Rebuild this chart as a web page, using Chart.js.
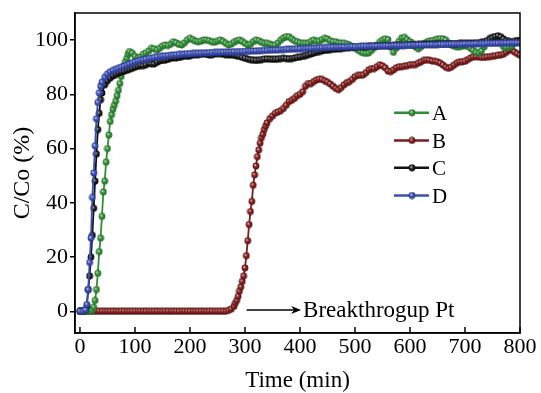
<!doctype html>
<html lang="en">
<head>
<meta charset="utf-8">
<title>Breakthrough curves</title>
<style>
  * { margin: 0; padding: 0; }
  body { background: #fff; }
  .chartBox { width: 541px; height: 393px; }
</style>
</head>
<body>
<div class="chartBox"><canvas id="myChart" width="541" height="393"></canvas></div>
<script src="https://cdn.jsdelivr.net/npm/chart.js"></script>
<script>
// sampling grid: one reading every 5 min, 0..800
const grid = [];
for (let t = 0; t <= 800; t += 5) grid.push(t);

const xTicks = [0, 100, 200, 300, 400, 500, 600, 700, 800];
const yTicks = [0, 20, 40, 60, 80, 100];
const names = ['A', 'B', 'C', 'D'];

// values on the 5-min grid (rows of 10 = 50 min)
const valA = [
  0,0,0,0,0,1.5,8,22,35,48,
  60,70,74.5,77.5,81.5,86.6,90.3,93.3,95.8,95.2,
  94,93.3,93.8,94.8,95.3,96,97,96.8,96.4,97,
  97.8,98.2,98,98.5,99.4,99,98.4,98.2,99,100,
  100.7,100.2,99.6,99.4,99.6,100,100,99.8,99.4,99.2,
  99.6,100,99.5,98.8,98.2,98.5,99.2,99.8,100,99.5,
  98.8,98.2,98.5,99.4,100,99.8,99.2,98.8,98.8,98.6,
  98.2,98.2,99,100,100.8,101.3,101.2,100.5,99.8,99.4,
  99,98.8,98.8,98.8,99.5,100,99.6,99.6,100.2,100.7,
  100.4,99.8,99.4,99.4,99,98.8,98.8,98.6,98.2,97.6,
  97,96.4,95.8,95.3,95.1,95.3,96.2,97.2,98.2,99.2,
  100,100.5,100.2,97.5,95.5,97,99.5,100.8,101,100.2,
  99.4,98.8,97.5,96.8,97.5,98.5,99.2,99.6,99.8,100,
  100.4,100.5,100.5,100,99,98.2,97.8,97.5,97.5,97.8,
  98,97.8,97,96.2,95.5,95.3,96,97.5,99.2,100.6,
  101,101.2,101,99,97.6,97.2,97.4,97.8,98.8,99.8,
  100
];
const valB = [
  0,0,0,0,0,0,0,0,0,0,
  0,0,0,0,0,0,0,0,0,0,
  0,0,0,0,0,0,0,0,0,0,
  0,0,0,0,0,0,0,0,0,0,
  0,0,0,0,0,0,0,0,0,0,
  0,0,0,0,0.3,0.8,1.8,4,7.4,11,
  16,26,36.8,46.5,53.6,59.5,64,67,69.5,71,
  72,73,73.5,74,74.8,76,77.3,77.8,78.5,79.5,
  80,81,83,84,84,84.7,85.3,85.6,85.5,85,
  84.5,83.8,83,82.2,81.7,82.5,83.5,84.3,84.7,85.5,
  86.5,87,87,87.2,88,89,89.5,89.5,90.2,90.9,
  90.5,89.8,88.6,88.4,89,89.8,90.2,90.2,90.4,90.6,
  90.9,91,91,91.5,92,92.5,92.7,92.6,92.3,92.2,
  92,91.5,90.8,90,89.6,90,90.8,91.5,92,92,
  92.2,92.8,93.4,93.8,93.9,93.8,93.6,93.6,93.8,93.9,
  94,94.2,94.4,94.5,94.8,95.5,96.2,96.4,95.6,95,
  94.5
];
const valC = [
  0,0,0.5,8,20,38,58,73,80.5,83.5,
  85,86,86.8,87.3,87.8,88.2,88.5,88.8,89.2,89.6,
  90,90.3,90.6,90.6,90.9,91.4,91.2,91.2,91.8,92.3,
  92.5,92.6,92.9,93.3,93.5,93.4,93.6,93.9,94.2,94,
  94.2,94.5,94.6,94.6,94.8,94.9,94.7,94.5,94.6,94.9,
  95,95,94.8,94.6,94.5,94.6,94.4,94.2,94,93.6,
  93.3,93,92.8,92.6,92.5,92.6,92.8,93,93.1,93,
  92.9,92.9,93,93.2,93.3,93.2,93.1,93.2,93.4,93.6,
  93.8,94,94.3,94.6,94.9,95.2,95.5,95.8,96,96.2,
  96.3,96.5,96.6,96.7,96.8,96.9,97,97.1,97.2,97.3,
  97.4,97.5,97.5,97.6,97.6,97.7,97.7,97.8,97.8,97.9,
  97.9,98,98,98,98.1,98.1,98.1,98.2,98.2,98.2,
  98.3,98.3,98.3,98.4,98.4,98.4,98.5,98.5,98.5,98.5,
  98.6,98.6,98.6,98.6,98.7,98.7,98.7,98.7,98.8,98.8,
  98.8,98.8,98.9,98.9,99,99,99.2,99.4,99.8,100.3,
  100.8,101.3,101.6,101.2,100.4,99.8,99.5,99.4,99.5,99.6,
  99.6
];
const valD = [
  0,0,0.5,8,27,51,71,80.5,84.5,86.3,
  87.5,88.3,88.8,89.2,89.6,90,90.4,90.8,91.2,91.6,
  92,92.3,92.6,92.8,93,93.2,93.4,93.6,93.8,94,
  94.1,94.2,94.3,94.4,94.5,94.6,94.7,94.8,94.9,95,
  95,95.1,95.1,95.2,95.2,95.3,95.3,95.4,95.4,95.5,
  95.5,95.5,95.6,95.6,95.6,95.7,95.7,95.7,95.8,95.8,
  95.8,95.9,95.9,96,96,96.1,96.1,96.2,96.2,96.3,
  96.3,96.4,96.4,96.5,96.5,96.6,96.6,96.7,96.7,96.8,
  96.8,96.9,96.9,97,97,97.1,97.1,97.2,97.2,97.3,
  97.3,97.3,97.4,97.4,97.4,97.5,97.5,97.5,97.6,97.6,
  97.6,97.6,97.7,97.7,97.7,97.7,97.8,97.8,97.8,97.8,
  97.9,97.9,97.9,97.9,98,98,98,98,98,98.1,
  98.1,98.1,98.1,98.2,98.2,98.2,98.2,98.3,98.3,98.3,
  98.3,98.4,98.4,98.4,98.4,98.5,98.5,98.5,98.5,98.5,
  98.6,98.6,98.6,98.6,98.7,98.7,98.7,98.7,98.8,98.8,
  98.8,98.8,98.8,98.9,98.9,98.9,98.9,99,99,99,
  99
];

// extra readings taken between grid points on the steep parts
const riseTA = [22.5,27.5,32.5,37.5,42.5,47.5,52.5,57.5,62.5,67.5,72.5,77.5,82.5,87.5];
const riseVA = [0.5,4,14,27,44,55,65,72.5,76,79.5,84,88.5,92,94.8];
const riseTB = [282.5,287.5,292.5,297.5,302.5,307.5,312.5,317.5,322.5,327.5,332.5,337.5];
const riseVB = [3,5.5,9,13,20.5,32,40.5,50.3,57,62,65.3,68.3];
const riseTC = [12.5,17.5,22.5,27.5,32.5,37.5];
const riseVC = [2,13,28,48,67,78];
const riseTD = [12.5,17.5,22.5,27.5,32.5,37.5];
const riseVD = [2.5,18,42,61,77,83];

function series(vals, rt, rv) {
  const pts = grid.map((t, i) => ({x: t, y: vals[i]}));
  rt.forEach((t, i) => pts.push({x: t, y: rv[i]}));
  pts.sort((a, b) => a.x - b.x);
  return pts;
}

// little shaded ball used as marker
function ball(color, dark, r) {
  const s = 8;
  const c = document.createElement('canvas');
  c.width = s; c.height = s;
  const g = c.getContext('2d');
  const grad = g.createRadialGradient(s/2 - r*0.3, s/2 - r*0.35, 0, s/2, s/2, r);
  grad.addColorStop(0, '#ffffff');
  grad.addColorStop(0.4, color);
  grad.addColorStop(1, dark);
  g.fillStyle = grad;
  g.beginPath();
  g.arc(s/2, s/2, r, 0, Math.PI*2);
  g.fill();
  return c;
}

const lineCol = ['#2f8f37', '#7d1c1c', '#111111', '#3a4fb2'];
const balls = [
  ball('#3e9d43', '#216b27', 3.4),
  ball('#922a2a', '#5a0f0f', 3.4),
  ball('#333333', '#000000', 3.4),
  ball('#4a5ec0', '#25348a', 3.4)
];
const drawOrder = [2, 3, 1, 0];

Chart.defaults.font.family = "'Liberation Serif', 'Times New Roman', serif";
Chart.defaults.color = '#000';

const data = {
  datasets: [
    {label: 'A', data: series(valA, riseTA, riseVA)},
    {label: 'B', data: series(valB, riseTB, riseVB)},
    {label: 'C', data: series(valC, riseTC, riseVC)},
    {label: 'D', data: series(valD, riseTD, riseVD)}
  ].map((d, i) => Object.assign(d, {
    borderColor: lineCol[i],
    backgroundColor: lineCol[i],
    borderWidth: 1.8,
    pointStyle: balls[i],
    pointRadius: 3,
    tension: 0,
    order: drawOrder[i]
  }))
};

// frame, inward x ticks, legend and the breakthrough arrow
const extras = {
  id: 'extras',
  afterDraw(chart) {
    const ctx = chart.ctx;
    const a = chart.chartArea;
    const xs = chart.scales.x, ys = chart.scales.y;
    ctx.save();
    ctx.strokeStyle = '#000';
    ctx.lineWidth = 1.5;
    ctx.strokeRect(a.left, a.top, a.right - a.left, a.bottom - a.top);
    xTicks.forEach(v => {
      const px = xs.getPixelForValue(v);
      ctx.beginPath();
      ctx.moveTo(px, a.bottom);
      ctx.lineTo(px, a.bottom - 6);
      ctx.stroke();
    });

    // arrow
    const ay = ys.getPixelForValue(0.5);
    const x0 = xs.getPixelForValue(303), x1 = xs.getPixelForValue(402);
    ctx.lineWidth = 1.6;
    ctx.beginPath();
    ctx.moveTo(x0, ay); ctx.lineTo(x1 - 6, ay);
    ctx.stroke();
    ctx.fillStyle = '#000';
    ctx.beginPath();
    ctx.moveTo(x1, ay); ctx.lineTo(x1 - 10, ay - 4); ctx.lineTo(x1 - 7, ay); ctx.lineTo(x1 - 10, ay + 4);
    ctx.closePath();
    ctx.fill();
    ctx.font = "23px 'Liberation Serif'";
    ctx.textBaseline = 'alphabetic';
    ctx.textAlign = 'left';
    ctx.fillText('Breakthrogup Pt', x1 + 2, ay + 7.5);

    // legend
    const rows = [112.7, 140.4, 167.8, 195.5];
    ctx.font = "21px 'Liberation Serif'";
    names.forEach((n, i) => {
      const y = rows[i];
      ctx.strokeStyle = lineCol[i];
      ctx.lineWidth = 2.5;
      ctx.beginPath();
      ctx.moveTo(394, y); ctx.lineTo(429, y);
      ctx.stroke();
      ctx.drawImage(balls[i], 412 - 4, y - 4);
      ctx.fillStyle = '#000';
      ctx.fillText(n, 432, y + 7.5);
    });
    ctx.restore();
  }
};

const config = {
  type: 'line',
  data,
  options: {
    responsive: false,
    animation: false,
    layout: {padding: {top: 12, right: 21, left: 0, bottom: 0}},
    plugins: {legend: {display: false}, tooltip: {enabled: false}},
    scales: {
      x: {
        type: 'linear',
        min: -9,
        max: 800,
        afterBuildTicks(s) { s.ticks = xTicks.map(v => ({value: v})); },
        afterFit(s) { s.height = 60; },
        grid: {display: true, drawOnChartArea: false, drawTicks: false},
        border: {display: true, color: '#000', width: 1.5},
        ticks: {font: {size: 22, lineHeight: 1}, padding: 3, maxRotation: 0, autoSkip: false},
        title: {display: true, text: 'Time (min)', font: {size: 23, lineHeight: 1}, padding: {top: 0, bottom: 1}}
      },
      y: {
        min: -8,
        max: 110,
        afterBuildTicks(s) { s.ticks = yTicks.map(v => ({value: v})); },
        afterFit(s) { s.width = 75; },
        grid: {display: true, drawOnChartArea: false, drawTicks: true, tickLength: 5, color: '#000', lineWidth: 1.5},
        border: {display: true, color: '#000', width: 1.5},
        ticks: {font: {size: 22, lineHeight: 1}, padding: 2},
        title: {display: true, text: 'C/Co (%)', font: {size: 24, lineHeight: 1}, padding: {top: 11, bottom: 0}}
      }
    }
  },
  plugins: [extras]
};

const myChart = new Chart(document.getElementById('myChart'), config);
</script>
</body>
</html>
